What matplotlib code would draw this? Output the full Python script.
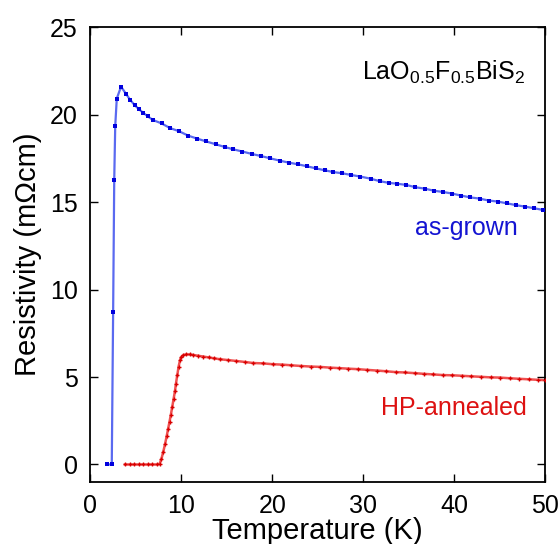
import matplotlib
matplotlib.use("Agg")
import matplotlib.pyplot as plt

plt.rcParams['font.family'] = ['Liberation Sans', 'DejaVu Sans']
plt.rcParams['mathtext.fontset'] = 'custom'
plt.rcParams['mathtext.rm'] = 'Liberation Sans'
plt.rcParams['mathtext.default'] = 'regular'

# as-grown sample (blue squares)
T_grown = [1.8, 2.35, 2.5, 2.62, 2.73, 2.9, 3.37, 3.9, 4.37, 4.87, 5.36, 5.82, 6.32,
           6.85, 7.82, 8.77, 9.76, 10.75, 11.74, 12.72, 13.76, 14.78, 15.7, 16.72,
           17.78, 18.8, 19.8, 20.82, 21.8, 22.84, 23.8, 24.78, 25.77, 26.68, 27.67,
           28.7, 29.69, 30.8, 31.8, 32.8, 33.76, 34.75, 35.74, 36.76, 37.78, 38.77,
           39.76, 40.79, 41.78, 42.8, 43.8, 44.8, 45.8, 46.76, 47.8, 48.8, 49.76]
R_grown = [0.0, 0.0, 8.72, 16.25, 19.35, 20.92, 21.6, 21.2, 20.85, 20.54, 20.3, 20.1, 19.9,
           19.7, 19.5, 19.23, 19.05, 18.8, 18.63, 18.47, 18.31, 18.15, 18.02, 17.89,
           17.75, 17.63, 17.5, 17.37, 17.26, 17.16, 17.05, 16.93, 16.82, 16.72, 16.65,
           16.55, 16.46, 16.34, 16.2, 16.1, 16.05, 15.98, 15.85, 15.77, 15.65, 15.58,
           15.49, 15.37, 15.27, 15.2, 15.09, 15.03, 14.93, 14.83, 14.74, 14.65, 14.55]

# HP-annealed sample (red crosses)
T_ann = [3.8, 4.3, 4.8, 5.3, 5.8, 6.3, 6.8, 7.3, 7.6, 7.8, 8.0, 8.2, 8.4, 8.55, 8.7,
         8.85, 9.0, 9.15, 9.3, 9.4, 9.55, 9.7, 9.85, 10.0, 10.2, 10.5, 10.9, 11.3,
         11.8, 12.4, 13.0, 13.6, 14.2, 15.1, 16.0, 17.0, 17.9, 19.0, 20.1, 21.1, 22.1,
         23.2, 24.2, 25.2, 26.3, 27.3, 28.3, 29.4, 30.4, 31.5, 32.5, 33.6, 34.6, 35.7,
         36.7, 37.7, 38.8, 39.8, 40.9, 41.9, 43.0, 44.0, 45.0, 46.1, 47.1, 48.2, 49.2, 50.0]
R_ann = [0.0, 0.0, 0.0, 0.0, 0.0, 0.0, 0.0, 0.0, 0.02, 0.3, 0.7, 1.15, 1.65, 2.05, 2.45,
         2.85, 3.3, 3.75, 4.2, 4.6, 5.1, 5.6, 5.95, 6.15, 6.25, 6.29, 6.29, 6.26,
         6.22, 6.17, 6.12, 6.07, 6.02, 5.97, 5.92, 5.86, 5.8, 5.78, 5.73, 5.71, 5.67,
         5.63, 5.6, 5.58, 5.54, 5.51, 5.48, 5.45, 5.41, 5.37, 5.33, 5.28, 5.26, 5.22,
         5.18, 5.15, 5.11, 5.1, 5.07, 5.04, 5.01, 4.98, 4.97, 4.93, 4.9, 4.87, 4.84, 4.82]

fig = plt.figure(figsize=(5.58, 5.44), dpi=100)
ax = fig.add_axes([0.162, 0.114, 0.815, 0.836])

ax.plot(T_grown, R_grown, '-', color='#5a6af0', lw=1.6, zorder=2)
ax.plot(T_grown, R_grown, 's', color='#0000dd', ms=3.2, mew=0, zorder=3)
ax.plot(T_ann, R_ann, '-', color='#f05050', lw=1.8, zorder=2)
ax.plot(T_ann, R_ann, '+', color='#d80000', ms=3.5, mew=1.0, zorder=3)

ax.set_xlim(0, 50)
ax.set_ylim(-1, 25)
ax.set_xticks([0, 10, 20, 30, 40, 50])
ax.set_yticks([0, 5, 10, 15, 20, 25])
ax.tick_params(direction='in', length=6, width=1, labelsize=18, top=True, right=True)
ax.tick_params(axis='x', pad=9)
ax.tick_params(axis='y', pad=9)
for s in ax.spines.values():
    s.set_linewidth(1.3)

ax.set_xlabel('Temperature (K)', fontsize=21, labelpad=-1)
ax.set_ylabel('Resistivity (m\u03a9cm)', fontsize=21, labelpad=6)

ax.text(0.955, 0.9, 'LaO$_{0.5}$F$_{0.5}$BiS$_2$', transform=ax.transAxes,
        ha='right', va='center', fontsize=18)
ax.text(0.94, 0.558, 'as-grown', transform=ax.transAxes, ha='right', va='center',
        fontsize=18, color='#1414d2')
ax.text(0.96, 0.163, 'HP-annealed', transform=ax.transAxes, ha='right', va='center',
        fontsize=18, color='#dd1111')

fig.savefig('out.png', dpi=100)
